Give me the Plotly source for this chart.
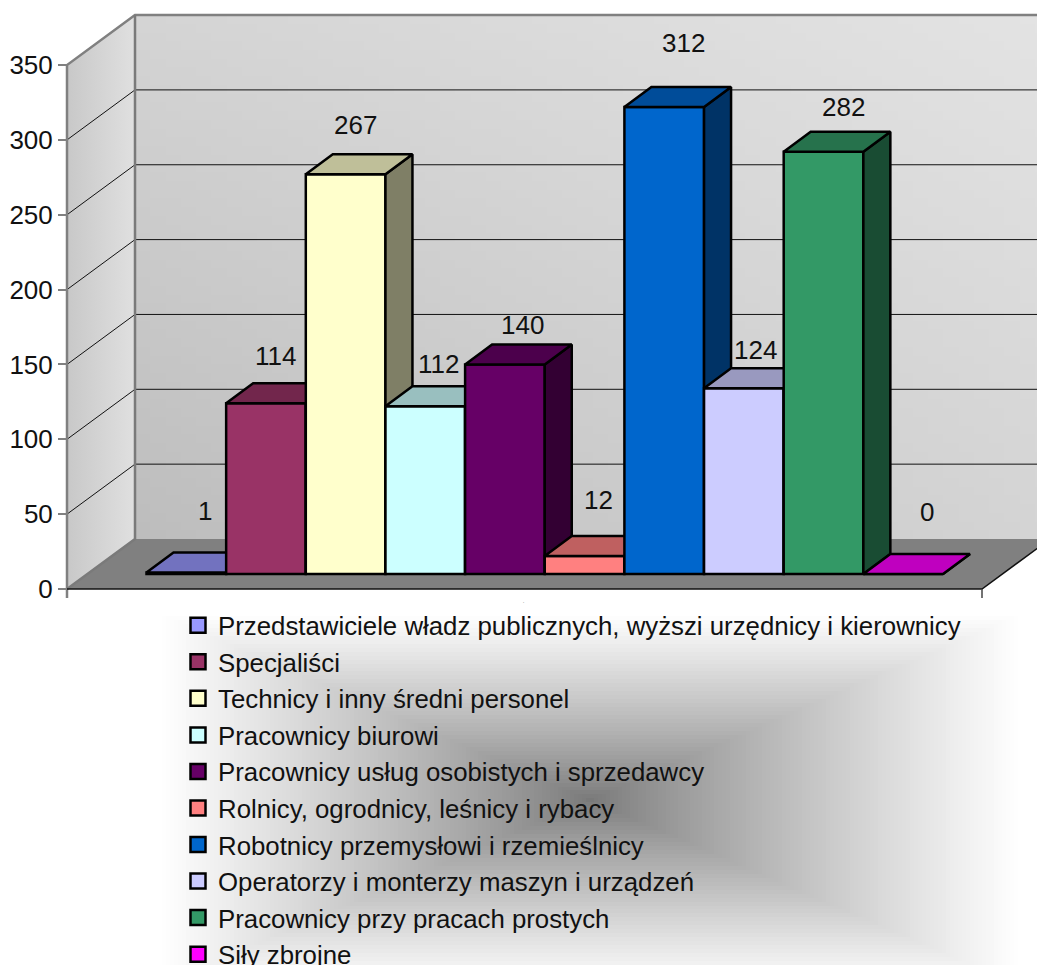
import numpy as np
import plotly.graph_objects as go

# ---- data ----
CATEGORIES = [
    "Przedstawiciele władz publicznych, wyższi urzędnicy i kierownicy",
    "Specjaliści",
    "Technicy i inny średni personel",
    "Pracownicy biurowi",
    "Pracownicy usług osobistych i sprzedawcy",
    "Rolnicy, ogrodnicy, leśnicy i rybacy",
    "Robotnicy przemysłowi i rzemieślnicy",
    "Operatorzy i monterzy maszyn i urządzeń",
    "Pracownicy przy pracach prostych",
    "Siły zbrojne",
]
VALUES = [1, 114, 267, 112, 140, 12, 312, 124, 282, 0]
TICKS = [0, 50, 100, 150, 200, 250, 300, 350]

# ---- styles ----
COLORS = ["#9999ff", "#993366", "#ffffcc", "#ccffff", "#660066",
          "#ff8080", "#0066cc", "#ccccff", "#339966", "#ff00ff"]
LABEL_SHIFTS = [(19, 62), (10, 47), (10, 49), (13, 42), (18, 39),
                (14, 56), (19, 64), (12, 38), (20, 45), (24, 62)]

W, H = 1037, 965
SLOT, UNIT = 79.65, 1.497
X0, Y0 = 146.5, 589.0
FONT = "Liberation Sans"


def xd(px):
    return (px - X0) / SLOT


def yd(px):
    return (Y0 - px) / UNIT


def shade(hex_color, f):
    r, g, b = (int(hex_color[i:i + 2], 16) for i in (1, 3, 5))
    return f"rgb({int(r * f)},{int(g * f)},{int(b * f)})"


GRAY = [[0, "#000000"], [1, "#ffffff"]]
WALL_X0, WALL_X1 = xd(67), xd(135)
FLOOR_RIGHT = xd(982)
WALL_DX = WALL_X1 - WALL_X0
WALL_DV = 50 / UNIT
TOP = 350
BAR_DX, BAR_DV = 27 / SLOT, 20 / UNIT
BAR_SHIFT = (Y0 - 574) / UNIT
y_lo, y_hi = yd(H), yd(0)

fig = go.Figure()


def poly(xs, ys, **kw):
    fig.add_trace(go.Scatter(x=xs, y=ys, mode="lines", showlegend=False,
                             hoverinfo="skip", **kw))


# Legend backdrop: rectangular gradient
gx = np.linspace(150, 1030, 221)
gy = np.linspace(612, H, 90)
cx, cy = 0.5 * (gx[1:] + gx[:-1]), 0.5 * (gy[1:] + gy[:-1])
CX, CY = np.meshgrid(cx, cy)
t = np.maximum(np.abs(CX - 590) / 430, np.abs(CY - 800) / 186)
fig.add_trace(go.Heatmap(x=xd(gx), y=yd(gy), z=120 + 135 * np.clip(t, 0, 1) ** 0.85,
                         zmin=0, zmax=255, colorscale=GRAY, showscale=False,
                         hoverinfo="skip"))

# Back wall: diagonal gradient
bx = np.linspace(WALL_X1, FLOOR_RIGHT + WALL_DX, 61)
bv = np.linspace(WALL_DV, TOP + WALL_DV, 61)
u, v = np.meshgrid(np.linspace(0, 1, 60), np.linspace(0, 1, 60))
z = (1 - u) * (1 - v) * 0xbd + u * (1 - v) * 0xd4 + (1 - u) * v * 0xd4 + u * v * 0xe3
fig.add_trace(go.Heatmap(x=bx, y=bv, z=z, zmin=0, zmax=255, colorscale=GRAY,
                         showscale=False, hoverinfo="skip"))

# Left wall
poly([WALL_X0, WALL_X1, WALL_X1, WALL_X0, WALL_X0],
     [0, WALL_DV, TOP + WALL_DV, TOP, 0],
     fill="toself", line=dict(width=0),
     fillgradient=dict(type="horizontal",
                       colorscale=[[0, "#c8c8c8"], [1, "#e0e0e0"]]))

# Floor
poly([WALL_X0, WALL_X1, FLOOR_RIGHT + WALL_DX, FLOOR_RIGHT, WALL_X0],
     [0, WALL_DV, WALL_DV, 0, 0], fill="toself", fillcolor="#808080",
     line=dict(width=0))

# Grid lines
gxs, gys = [], []
for val in TICKS[1:-1]:
    gxs += [WALL_X0, WALL_X1, FLOOR_RIGHT + WALL_DX, None]
    gys += [val, val + WALL_DV, val + WALL_DV, None]
poly(gxs, gys, line=dict(color="#111111", width=1))

# Wall outlines
poly([WALL_X0, WALL_X0, WALL_X1, FLOOR_RIGHT + WALL_DX],
     [-6, TOP, TOP + WALL_DV, TOP + WALL_DV], line=dict(color="#808080", width=2.5))
poly([WALL_X1, WALL_X1, WALL_X0], [TOP + WALL_DV, WALL_DV, 0],
     line=dict(color="#7a7a7a", width=2.5))
poly([WALL_X0, FLOOR_RIGHT, FLOOR_RIGHT + WALL_DX], [0, 0, WALL_DV],
     line=dict(color="#111111", width=1.5))
poly([FLOOR_RIGHT, FLOOR_RIGHT], [0, -6], line=dict(color="#444444", width=1.5))

# Legend entries
for name, col in zip(CATEGORIES, COLORS):
    fig.add_trace(go.Scatter(
        x=[None], y=[None], mode="markers", name=name, legendgroup=name,
        marker=dict(symbol="square", size=15, color=col,
                    line=dict(color="#000000", width=2.5))))

# Bars, one overlaid value axis each so they stack left to right
axes = {}
for i, (name, val, col) in enumerate(zip(CATEGORIES, VALUES, COLORS)):
    ya = f"y{i + 2}"
    axes[f"yaxis{i + 2}"] = dict(overlaying="y", visible=False, anchor="x",
                                 range=[y_lo - BAR_SHIFT, y_hi - BAR_SHIFT])
    outline = dict(color="#000000", width=2.5)
    fig.add_trace(go.Bar(x=[i + 0.5], y=[val], width=1, yaxis=ya, name=name,
                         marker=dict(color=col, line=outline), showlegend=False,
                         hovertemplate="%{y}<extra>" + name + "</extra>"))
    poly([i + 1, i + 1 + BAR_DX, i + 1 + BAR_DX, i + 1, i + 1],
         [0, BAR_DV, val + BAR_DV, val, 0], yaxis=ya, fill="toself",
         fillcolor=shade(col, 0.5), line=outline)
    poly([i, i + BAR_DX, i + 1 + BAR_DX, i + 1, i],
         [val, val + BAR_DV, val + BAR_DV, val, val], yaxis=ya, fill="toself",
         fillcolor=shade(col, 0.75), line=outline)

# Value labels
annotations = []
for i, (val, (sx, sy)) in enumerate(zip(VALUES, LABEL_SHIFTS)):
    annotations.append(dict(x=i + 0.5, y=val + BAR_SHIFT, xref="x", yref="y",
                            text=str(val), showarrow=False, xshift=sx, yshift=sy,
                            font=dict(family=FONT, size=26, color="#111111")))
annotations.append(dict(x=xd(524), y=yd(602), xref="x", yref="y", text="1",
                        showarrow=False, font=dict(family=FONT, size=2, color="#777777")))

fig.update_layout(
    width=W, height=H, autosize=False,
    margin=dict(l=0, r=0, t=0, b=0, pad=0, autoexpand=False),
    paper_bgcolor="#ffffff", plot_bgcolor="#ffffff",
    barmode="overlay",
    xaxis=dict(range=[xd(0), xd(W)], visible=False, domain=[0, 1]),
    yaxis=dict(range=[y_lo, y_hi], domain=[0, 1], anchor="free",
               position=67 / W, tickmode="array", tickvals=TICKS,
               ticks="outside", ticklen=9, tickwidth=2, tickcolor="#808080",
               showgrid=False, zeroline=False, showline=False,
               tickfont=dict(family=FONT, size=26, color="#111111")),
    legend=dict(x=178 / W, y=(H - 602) / H, xanchor="left", yanchor="top",
                bgcolor="rgba(0,0,0,0)", borderwidth=0, tracegroupgap=0,
                itemsizing="trace",
                font=dict(family=FONT, size=25.8, color="#111111")),
    annotations=annotations,
    **axes,
)

fig.write_html("out.html", config={"displayModeBar": False},
               post_script="document.body.style.margin='0';document.documentElement.style.overflow='hidden';")
